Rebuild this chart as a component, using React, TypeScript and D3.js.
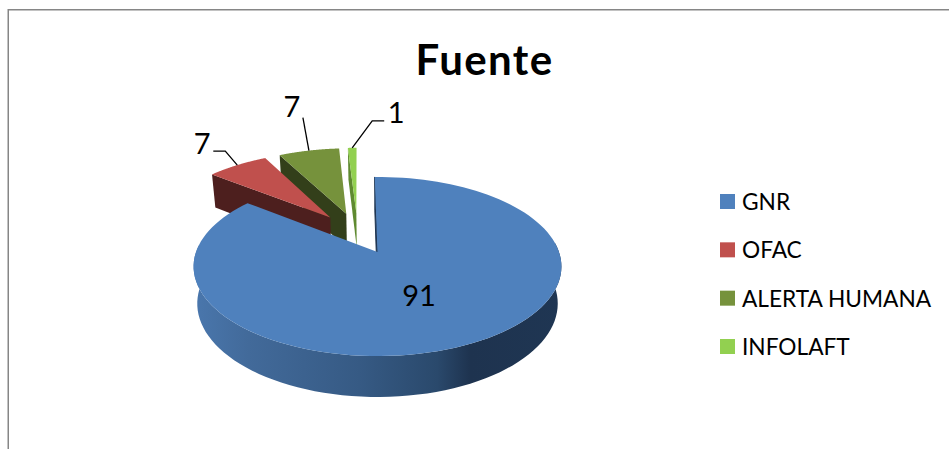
import React from "react";
import * as d3 from "d3";

const categories = ["GNR", "OFAC", "ALERTA HUMANA", "INFOLAFT"];
const values = [91, 7, 7, 1];
const topColors = ["#4f81bd", "#c0504d", "#76923c", "#92d050"];
const wallColors = ["#27405e", "#4d1f1e", "#333f1a", "#5f8a30"];

const WIDTH = 949;
const HEIGHT = 449;
const FONT = "Lato, 'Open Sans', sans-serif";

// pie ground plane -> screen, with a little perspective
const X0 = 377.5;
const Y0 = 252;
const RX = 181.5;
const RY = 87.2;
const PERSP = 0.162;
const EXPLODE = 0.255;

type P = [number, number];

const dir = (a: number): P => [Math.sin(a), Math.cos(a)];

function project(u: number, w: number, bottom = false): P {
  const s = 1 / (1 + PERSP * w);
  const x = RX * u * s;
  const y = RY * w * s;
  if (!bottom) return [X0 + x, Y0 - y];
  // base of the disc: slightly narrower, depth shrinks towards the back
  return [X0 + x * 0.98, Y0 - y + 36.4 - (3.8 * w * s)];
}

const rotation = (-1 * Math.PI) / 180;
const arcs = d3
  .pie<number>()
  .sort(null)
  .startAngle(rotation)
  .endAngle(rotation + 2 * Math.PI)(values);

const midAngle = (i: number) => (arcs[i].startAngle + arcs[i].endAngle) / 2;
const sampleAngles = (a0: number, a1: number) => d3.range(0, 121).map((k) => a0 + ((a1 - a0) * k) / 120);

// every slice is pulled out of the shared centre; the origin above sits on the GNR tip
function offsetOf(i: number): P {
  const a = dir(midAngle(i));
  const b = dir(midAngle(0));
  return [EXPLODE * (a[0] - b[0]), EXPLODE * (a[1] - b[1])];
}

const lineGen = d3.line<P>().curve(d3.curveLinear);

function topPath(i: number) {
  const [ox, oy] = offsetOf(i);
  const rim = sampleAngles(arcs[i].startAngle, arcs[i].endAngle).map((a) => {
    const [u, w] = dir(a);
    return project(u + ox, w + oy);
  });
  return lineGen([project(ox, oy), ...rim]) + "Z";
}

// flat cut face between the tip and the rim at angle a
function cutFace(i: number, a: number) {
  const [ox, oy] = offsetOf(i);
  const [u, w] = dir(a);
  return (
    lineGen([
      project(ox, oy),
      project(u + ox, w + oy),
      project(u + ox, w + oy, true),
      project(ox, oy, true),
    ]) + "Z"
  );
}

// outer wall of the disc, front half only
function outerWall(i: number) {
  const [ox, oy] = offsetOf(i);
  const angles = sampleAngles(arcs[i].startAngle, arcs[i].endAngle).filter((a) => Math.cos(a) < 0.12);
  const upper = angles.map((a) => project(dir(a)[0] + ox, dir(a)[1] + oy));
  const lower = angles.map((a) => project(dir(a)[0] + ox, dir(a)[1] + oy, true)).reverse();
  return lineGen([...upper, ...lower]) + "Z";
}

function rimPoint(i: number, a: number): P {
  const [ox, oy] = offsetOf(i);
  const [u, w] = dir(a);
  return project(u + ox, w + oy);
}

const wallX = d3.scaleLinear().domain([0, 1]).range([193, 563]);
const wallStops: [number, string][] = [
  [0, "#4a77ad"],
  [0.15, "#426a9a"],
  [0.45, "#365a84"],
  [0.66, "#2a496c"],
  [0.75, "#1e334f"],
  [1, "#1f3653"],
];

const legendY = d3.scalePoint<string>().domain(categories).range([201.5, 346.5]);

export default function App() {
  const pts = values.map((_, i) => rimPoint(i, midAngle(i)));
  const leaders: P[][] = [
    [],
    [[pts[1][0], pts[1][1]], [pts[1][0] - 12, pts[1][1] - 14], [pts[1][0] - 24, pts[1][1] - 14]],
    [[pts[2][0], pts[2][1]], [pts[2][0] - 6, pts[2][1] - 33]],
    [[pts[3][0], pts[3][1]], [pts[3][0] + 20, pts[3][1] - 27], [pts[3][0] + 32, pts[3][1] - 27]],
  ];
  const labelPos: P[] = [
    [419, 294],
    [pts[1][0] - 35, pts[1][1] - 23],
    [pts[2][0] - 17, pts[2][1] - 45],
    [pts[3][0] + 44, pts[3][1] - 36],
  ];

  return (
    <svg
      width={WIDTH}
      height={HEIGHT}
      style={{ position: "absolute", left: 0, top: 0, background: "#fff" }}
    >
      <defs>
        <linearGradient id="wall" gradientUnits="userSpaceOnUse" x1={wallX(0)} x2={wallX(1)} y1={0} y2={0}>
          {wallStops.map(([o, c]) => (
            <stop key={o} offset={o} stopColor={c} />
          ))}
        </linearGradient>
      </defs>

      <path d={`M8.25,449V9.75H949`} fill="none" stroke="#868686" strokeWidth={1.5} />

      <text
        x={484.5}
        y={75}
        textAnchor="middle"
        fontFamily={FONT}
        fontWeight={700}
        fontSize={42}
        letterSpacing={1.4}
        fill="#000"
      >
        Fuente
      </text>

      {[3, 2, 1].map((i) => (
        <g key={categories[i]}>
          <path d={cutFace(i, arcs[i].startAngle)} fill={wallColors[i]} />
          <path d={topPath(i)} fill={topColors[i]} />
        </g>
      ))}

      <path d={cutFace(0, arcs[0].startAngle)} fill="#1f3653" stroke="#1f3653" strokeWidth={1} />
      <path d={outerWall(0)} fill="url(#wall)" />
      <path d={topPath(0)} fill={topColors[0]} />

      {leaders.map((l, i) =>
        l.length ? <path key={i} d={lineGen(l) ?? ""} fill="none" stroke="#000" strokeWidth={1.3} /> : null
      )}
      {values.map((v, i) => (
        <text
          key={i}
          x={labelPos[i][0]}
          y={labelPos[i][1]}
          textAnchor="middle"
          dominantBaseline="central"
          fontFamily={FONT}
          fontSize={29}
          fill="#000"
        >
          {v}
        </text>
      ))}

      {categories.map((c, i) => (
        <g key={c}>
          <rect x={720} y={(legendY(c) ?? 0) - 7.5} width={15} height={15} fill={topColors[i]} />
          <text
            x={742}
            y={legendY(c) ?? 0}
            dominantBaseline="central"
            fontFamily={FONT}
            fontSize={22.7}
            fill="#000"
          >
            {c}
          </text>
        </g>
      ))}
    </svg>
  );
}
